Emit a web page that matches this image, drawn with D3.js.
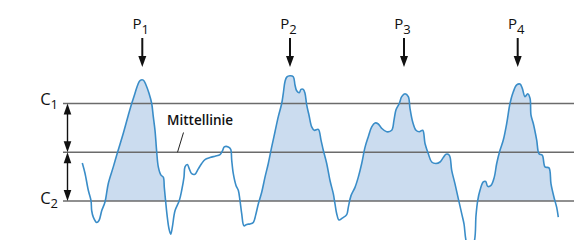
<!DOCTYPE html>
<html>
<head>
<meta charset="utf-8">
<script src="https://cdn.jsdelivr.net/npm/d3@7"></script>
<style>
  html, body { margin: 0; padding: 0; background: #fff; }
  svg { display: block; }
  text { font-family: "Open Sans", "Noto Sans", sans-serif; fill: #111; }
</style>
</head>
<body>
<svg id="chart" width="574" height="240"></svg>
<script>
// ---- data ----
// profile position (length units) and height relative to the mean line
const profileX = [82.3,85,88.3,91,91.7,93.3,96.7,99,101.7,105,108.3,113.3,117.7,123.3,128.3,131.7,135,137.7,140,143.3,146,149,151.7,153.3,155,156.7,158.3,161,163.3,164.3,165.7,167.3,169,170.7,172.3,175,179.3,181.7,184,185,187.3,189.3,191.7,195,198.3,201.7,205,210,215,220,222.7,224.3,228.3,230.7,231.7,233.3,236,238.3,240,241.7,244,246.7,250,253.3,256,258.3,261.7,265,268.3,271.7,275,278.3,281.7,283.3,285,286.7,290,293.3,295,296.7,299.3,301,303.3,305,306.7,309,311.7,314.3,318.3,321,323.3,326.7,330,333.3,335,336.7,339,342.3,346.7,348.3,351,355,358.3,361.7,365,368.3,371.7,375,378.3,381.7,386.7,391.7,394,396,399.3,401.7,405,408.3,410,412.7,416,419.3,422.7,425,428.3,431.7,436,440,443.3,446,449.3,451.7,455,458.3,461.7,464,466,470,474.5,476,477.7,480,483.3,485.7,487.7,491,494.3,496.7,500,503.3,506.7,510,513.3,516.7,520,522.3,525,527.7,530,531,533.3,536.7,539,542.3,545,549,551,554.3,556.7,558.3];
const profileH = [-2.2,-4.3,-7.8,-9.9,-12.0,-13.3,-14.4,-14.0,-12.0,-10.2,-6.4,-3.0,0.1,3.9,7.6,10.0,12.1,13.8,14.7,14.8,13.8,12.1,10.0,7.3,4.5,0.1,-3.0,-4.7,-5.1,-7.2,-10.2,-13.3,-15.7,-16.8,-15.4,-12.0,-9.9,-7.8,-5.1,-3.0,-2.5,-3.4,-4.4,-4.5,-3.4,-2.3,-1.5,-1.1,-0.8,-0.5,0.4,1.1,1.1,0.6,-1.6,-4.4,-6.8,-7.8,-9.9,-12.6,-15.1,-14.8,-14.7,-14.4,-12.6,-10.6,-8.2,-5.1,-2.3,1.1,4.2,7.3,10.0,12.1,14.5,15.4,15.7,15.5,13.8,12.6,12.2,12.9,12.9,12.1,9.7,7.6,5.2,4.5,4.7,2.5,0.4,-2.3,-5.8,-8.5,-10.6,-12.6,-13.9,-13.5,-12.8,-11.3,-8.9,-7.2,-5.1,-2.3,1.0,3.2,5.2,6.0,5.8,4.9,4.2,4.5,6.6,8.7,10.0,11.4,12.0,11.4,9.0,6.2,4.5,4.2,4.5,1.8,-0.3,-2.0,-2.3,-2.0,-1.1,-0.4,-0.6,-3.7,-6.5,-9.5,-12.6,-14.7,-18.1,-20.6,-18.1,-13.0,-9.9,-7.8,-6.1,-6.0,-7.0,-6.8,-5.1,-2.3,0.4,2.5,5.9,10.0,12.4,13.8,14.0,13.1,11.4,12.0,11.1,7.6,5.9,2.5,-0.3,-0.6,-3.0,-3.2,-6.5,-9.5,-11.3,-13.3];

const levelNames = ["C1", "Mittellinie", "C2"];
const levelValues = [10, 0, -10];
const peakLabels = ["1", "2", "3", "4"];
const peakX = [142.3, 290, 404, 517.7];

// ---- scales ----
const svg = d3.select("#chart");
const x = d3.scaleLinear().domain([0, 574]).range([0, 574]);
const y = d3.scaleLinear().domain([-10, 10]).range([201, 103.5]);

const C1 = levelValues[0], MID = levelValues[1], C2 = levelValues[2];
const pts = profileX.map((v, i) => [v, profileH[i]]);

// ---- filled profile elements: runs above C2 that reach C1 ----
const runs = [];
let cur = null;
for (let i = 0; i < pts.length; i++) {
  const [px, ph] = pts[i];
  if (ph > C2) {
    if (!cur) {
      cur = [];
      if (i > 0) {
        const [qx, qh] = pts[i - 1];
        const t = (C2 - qh) / (ph - qh);
        cur.push([qx + t * (px - qx), C2]);
      }
    }
    cur.push([px, ph]);
  } else if (cur) {
    const [qx, qh] = pts[i - 1];
    const t = (C2 - qh) / (ph - qh);
    cur.push([qx + t * (px - qx), C2]);
    runs.push(cur); cur = null;
  }
}
if (cur) runs.push(cur);
const filled = runs.filter(r => d3.max(r, d => d[1]) >= C1);

const area = d3.area()
  .x(d => x(d[0])).y0(y(C2)).y1(d => y(d[1]))
  .curve(d3.curveCatmullRom.alpha(0.5));

svg.append("g").selectAll("path").data(filled).join("path")
  .attr("d", area)
  .attr("fill", "#cbdcef")
  .attr("stroke", "none");

// ---- level lines ----
svg.append("g").selectAll("line").data(levelValues).join("line")
  .attr("x1", 63).attr("x2", 574)
  .attr("y1", d => y(d)).attr("y2", d => y(d))
  .attr("stroke", "#6b6b6b").attr("stroke-width", 1.6);

// ---- profile line ----
const line = d3.line().x(d => x(d[0])).y(d => y(d[1]))
  .curve(d3.curveCatmullRom.alpha(0.5));
svg.append("path").datum(pts)
  .attr("d", line)
  .attr("fill", "none")
  .attr("stroke", "#3a8dc8")
  .attr("stroke-width", 1.6)
  .attr("stroke-linejoin", "round");

// ---- double arrows between levels ----
const ax = 67.5, headL = 11, headW = 3.8;
function head(tipY, dir) { // dir = +1 points down, -1 points up
  const by = tipY - dir * headL;
  return `M${ax},${tipY}L${ax - headW},${by}L${ax + headW},${by}Z`;
}
const ag = svg.append("g");
[[C1, MID], [MID, C2]].forEach(([a, b]) => {
  const ya = y(a), yb = y(b);
  ag.append("line").attr("x1", ax).attr("x2", ax)
    .attr("y1", ya + 4).attr("y2", yb - 4)
    .attr("stroke", "#111").attr("stroke-width", 1.4);
  ag.append("path").attr("d", head(ya, -1)).attr("fill", "#111");
  ag.append("path").attr("d", head(yb, 1)).attr("fill", "#111");
});

// ---- level labels C1 / C2 ----
[[levelNames[0], C1, 1.5], [levelNames[2], C2, 3]].forEach(([name, v, dy]) => {
  const t = svg.append("text")
    .attr("x", 58).attr("y", y(v) + dy)
    .attr("text-anchor", "end")
    .style("font-size", "16.5px");
  t.append("tspan").text(name[0]);
  t.append("tspan").text(name.slice(1)).attr("dy", 4).style("font-size", "13px");
});

// ---- Mittellinie label with leader ----
svg.append("text")
  .attr("x", 167).attr("y", 125)
  .style("font-size", "13.5px").style("font-weight", 600)
  .text(levelNames[1]);
svg.append("line")
  .attr("x1", 183.5).attr("y1", 132.5)
  .attr("x2", 177.5).attr("y2", y(MID))
  .attr("stroke", "#222").attr("stroke-width", 1);

// ---- peak labels and arrows ----
const pg = svg.append("g");
peakX.forEach((px, i) => {
  const cx = x(px);
  const t = pg.append("text")
    .attr("x", cx - 1.5).attr("y", 28.5)
    .attr("text-anchor", "middle")
    .style("font-size", "15px");
  t.append("tspan").text("P");
  t.append("tspan").text(peakLabels[i]).attr("dy", 5).style("font-size", "13px");
  pg.append("line").attr("x1", cx).attr("x2", cx)
    .attr("y1", 38).attr("y2", 58)
    .attr("stroke", "#111").attr("stroke-width", 2);
  pg.append("path")
    .attr("d", `M${cx},67L${cx - 4},56L${cx + 4},56Z`)
    .attr("fill", "#111");
});
</script>
</body>
</html>
